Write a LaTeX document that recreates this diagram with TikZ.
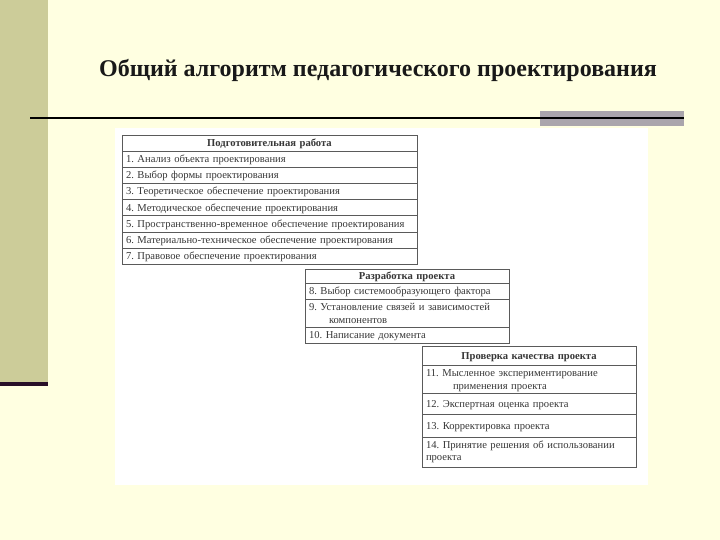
\documentclass[tikz,border=0pt]{standalone}
\usepackage{fontspec}
\setmainfont{Liberation Serif}
\usetikzlibrary{positioning}
\definecolor{slidebg}{RGB}{255,255,225}
\definecolor{olivebar}{RGB}{204,204,153}
\definecolor{greybar}{RGB}{170,165,172}
\definecolor{darkrule}{RGB}{40,15,40}
\definecolor{tabline}{RGB}{90,90,90}
\definecolor{tabtext}{RGB}{55,55,55}
\newcommand{\tabfont}{\fontsize{10.6}{12.6}\selectfont\frenchspacing}

\begin{document}
\begin{tikzpicture}[x=1pt,y=-1pt,
  cell/.style={draw=tabline, line width=0.8pt, anchor=north west, outer sep=0pt,
    inner xsep=4pt, inner ysep=1pt, font=\tabfont, text=tabtext, align=left},
  item/.style={cell, text height=8.5pt, text depth=1.5pt},
  twoline/.style={cell, text height=9.5pt, text depth=14.1pt},
  headcell/.style={item, align=center, font=\tabfont\bfseries}]
\useasboundingbox (0,0) rectangle (720,540);
\fill[slidebg] (0,0) rectangle (720,540);
% left band and rules
\fill[olivebar] (0,0) rectangle (48,382);
\fill[darkrule] (0,382) rectangle (48,386);
\fill[greybar] (540,111) rectangle (684,126);
\draw[line width=2pt] (30,118) -- (684,118);
\node[font=\fontsize{24}{28}\selectfont\bfseries, text=black!90] (title) at (378,70)
  {Общий алгоритм педагогического проектирования};
\fill[white] (115,128) rectangle (648,485);

% stage 1
\node[headcell, text width=287pt, minimum height=16pt] (prep) at (122,135) {Подготовительная работа};
\node[item, text width=287pt, minimum height=16.2pt, below=0pt of prep.south west, anchor=north west] (prep1) {1. Анализ объекта проектирования};
\node[item, text width=287pt, minimum height=16.2pt, below=0pt of prep1.south west, anchor=north west] (prep2) {2. Выбор формы проектирования};
\node[item, text width=287pt, minimum height=16.2pt, below=0pt of prep2.south west, anchor=north west] (prep3) {3. Теоретическое обеспечение проектирования};
\node[item, text width=287pt, minimum height=16.2pt, below=0pt of prep3.south west, anchor=north west] (prep4) {4. Методическое обеспечение проектирования};
\node[item, text width=287pt, minimum height=16.2pt, below=0pt of prep4.south west, anchor=north west] (prep5) {5. Пространственно-временное обеспечение проектирования};
\node[item, text width=287pt, minimum height=16.2pt, below=0pt of prep5.south west, anchor=north west] (prep6) {6. Материально-техническое обеспечение проектирования};
\node[item, text width=287pt, minimum height=16.2pt, below=0pt of prep6.south west, anchor=north west] (prep7) {7. Правовое обеспечение проектирования};

% stage 2
\node[headcell, text width=196pt, minimum height=14pt] (devel) at (305,269) {Разработка проекта};
\node[item, text width=196pt, minimum height=16pt, below=0pt of devel.south west, anchor=north west] (devel8) {8. Выбор системообразующего фактора};
\node[twoline, text width=196pt, minimum height=28pt, below=0pt of devel8.south west, anchor=north west] (devel9) {9. Установление связей и зависимостей\\\hspace*{20pt}компонентов};
\node[item, text width=196pt, minimum height=16pt, below=0pt of devel9.south west, anchor=north west] (devel10) {10. Написание документа};

% stage 3
\node[headcell, text width=206pt, minimum height=19pt] (check) at (422,346) {Проверка качества проекта};
\node[twoline, text width=206pt, minimum height=28pt, below=0pt of check.south west, anchor=north west] (check11) {11. Мысленное экспериментирование\\\hspace*{27pt}применения проекта};
\node[item, text width=206pt, minimum height=21pt, below=0pt of check11.south west, anchor=north west] (check12) {12. Экспертная оценка проекта};
\node[item, text width=206pt, minimum height=23pt, below=0pt of check12.south west, anchor=north west] (check13) {13. Корректировка проекта};
\node[cell, text width=206pt, minimum height=30pt, below=0pt of check13.south west, anchor=north west] (check14) {14. Принятие решения об использовании\\проекта};
\end{tikzpicture}
\end{document}
